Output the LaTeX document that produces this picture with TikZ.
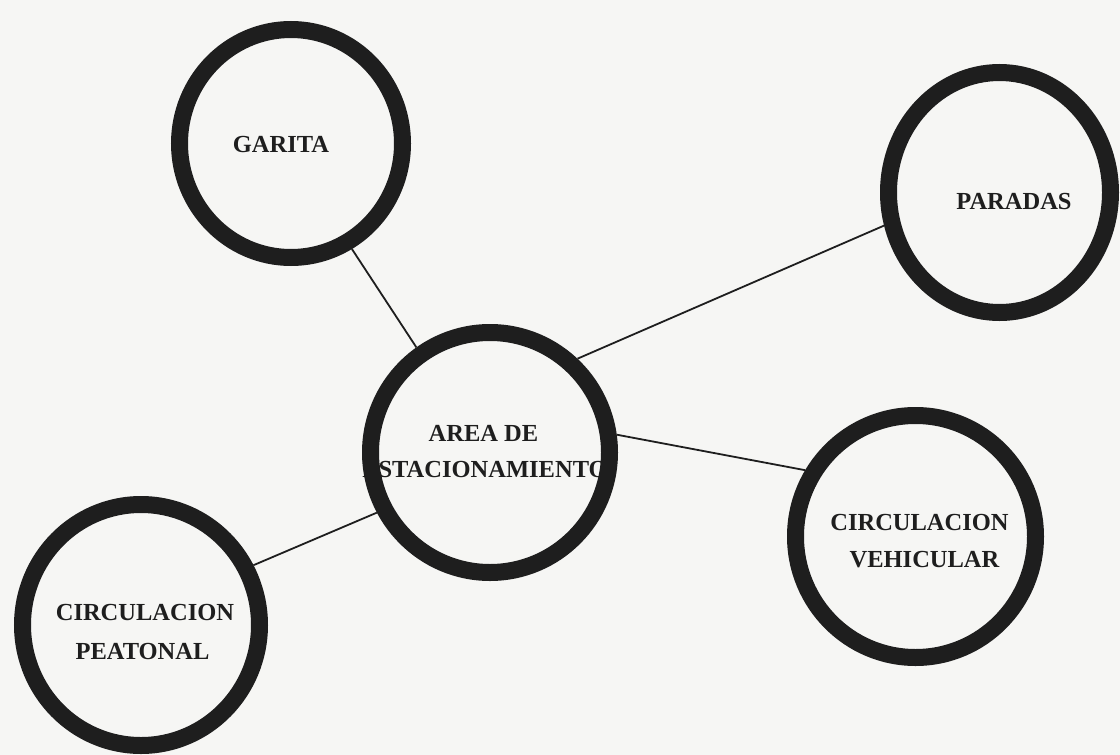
\documentclass[tikz,border=0pt]{standalone}
\usepackage{fontspec}
\setmainfont{Liberation Serif}
\usetikzlibrary{shapes.geometric}
\definecolor{bg}{RGB}{246,246,244}
\definecolor{ink}{RGB}{30,30,30}
\tikzset{
  ring/.style={ellipse, draw=ink, line width=17pt, inner sep=0pt},
  lbl/.style={anchor=base, inner sep=0pt, text=ink, font=\bfseries\fontsize{24.5}{29}\selectfont},
  link/.style={draw=ink, line width=1.8pt}
}
\begin{document}
\begin{tikzpicture}[x=1pt,y=-1pt]
\fill[bg] (0,0) rectangle (1120,755);
\useasboundingbox (0,0) rectangle (1120,755);
% labels
\node[lbl] (tg) at (281,152.5) {GARITA};
\node[lbl] (tp) at (1014,209.5) {PARADAS};
\node[lbl] (ta1) at (483.5,441.5) {AREA DE};
\node[lbl] (ta2) at (485,477.5) {ESTACIONAMIENTO};
\node[lbl] (tv1) at (919.5,530.5) {CIRCULACION};
\node[lbl] (tv2) at (924.5,567.5) {VEHICULAR};
\node[lbl] (tc1) at (145,620.5) {CIRCULACION};
\node[lbl] (tc2) at (142.5,659.5) {PEATONAL};
% rings
\node[ring, minimum width=223pt, minimum height=228pt] (gar) at (291,143.5) {};
\node[ring, minimum width=222pt, minimum height=240pt] (par) at (999.5,192.5) {};
\node[ring, minimum width=239pt, minimum height=240pt] (are) at (490,452.5) {};
\node[ring, minimum width=240pt, minimum height=242pt] (veh) at (915.5,536.5) {};
\node[ring, minimum width=237pt, minimum height=241pt] (pea) at (141,625) {};
% connectors
\draw[link] (gar.-60) -- (are.125);
\draw[link] (are.47.7) -- (par.-164.4);
\draw[link] (are.8.1) -- (veh.149.4);
\draw[link] (are.-152.7) -- (pea.28.2);
\end{tikzpicture}
\end{document}
